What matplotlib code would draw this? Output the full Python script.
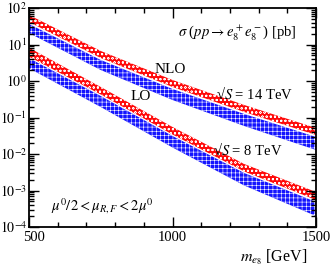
import matplotlib
matplotlib.use("Agg")
import matplotlib.pyplot as plt
import matplotlib.transforms as mtransforms
import numpy as np

plt.rcParams['font.family'] = ['Liberation Serif', 'DejaVu Serif']
plt.rcParams['mathtext.fontset'] = 'stix'
plt.rcParams['hatch.linewidth'] = 0.4

mass = [500, 750, 1000, 1250, 1500]

nlo14_hi = [64.3, 6.64, 1.065, 0.220, 0.0515]
nlo14_lo = [41.3, 4.27, 0.685, 0.1415, 0.0332]
lo14_hi = [36.5, 3.76, 0.604, 0.1247, 0.0292]
lo14_lo = [20.7, 2.00, 0.302, 0.0585, 0.0129]

nlo8_hi = [8.17, 0.685, 0.0549, 5.32e-3, 9.10e-4]
nlo8_lo = [4.63, 0.427, 0.0342, 3.32e-3, 5.50e-4]
lo8_hi = [4.21, 0.388, 0.0311, 3.01e-3, 4.84e-4]
lo8_lo = [2.23, 0.194, 0.01507, 1.37e-3, 2.00e-4]

fig = plt.figure(figsize=(3.32, 2.71), dpi=100)
ax = fig.add_axes([29/332, 1-227/271, 287/332, 219/271])

for hi, lo in [(nlo14_hi, nlo14_lo), (nlo8_hi, nlo8_lo)]:
    ax.fill_between(mass, lo, hi, facecolor='#ff0a0a', edgecolor='white',
                    hatch='oooo', linewidth=0)
for hi, lo in [(lo14_hi, lo14_lo), (lo8_hi, lo8_lo)]:
    ax.fill_between(mass, lo, hi, facecolor='#1414ff', edgecolor='white',
                    hatch='++++', linewidth=0)

ax.set_yscale('log')
ax.set_xlim(500, 1500)
ax.set_ylim(1e-4, 1e2)
ax.set_xticks([500, 1000, 1500])
ax.set_xticks(np.arange(600, 1500, 100), minor=True)
ax.set_yticks([1e-4, 1e-3, 1e-2, 1e-1, 1, 10, 100])
ax.set_yticklabels([r'$10^{-4}$', r'$10^{-3}$', r'$10^{-2}$', r'$10^{-1}$',
                    r'$10^{0}$', r'$10^{1}$', r'$10^{2}$'])
ax.tick_params(which='both', direction='in', top=True, right=True,
               labelsize=10, width=1)
ax.tick_params(which='major', length=7)
ax.tick_params(which='minor', length=3.5)
ax.tick_params(axis='y', pad=1.5)
ax.tick_params(axis='x', pad=3, labelsize=10.5)
for s in ax.spines.values():
    s.set_linewidth(1.3)

# shift the first x tick label slightly to the right like the reference
lbl = ax.get_xticklabels()[0]
lbl.set_transform(lbl.get_transform() + mtransforms.ScaledTranslation(5/100, 0, fig.dpi_scale_trans))

ax.set_xlabel(r'$m_{e_8}$ [GeV]', fontsize=11.5, ha='right')
ax.xaxis.set_label_coords(0.968, -0.095)

ax.text(0.93, 0.886, r'$\sigma$ ($pp \rightarrow e_8^+ e_8^-$) [pb]',
        transform=ax.transAxes, ha='right', va='center', fontsize=10.5)
ax.text(0.491, 0.717, 'NLO', transform=ax.transAxes, ha='center', va='center', fontsize=11)
ax.text(0.390, 0.594, 'LO', transform=ax.transAxes, ha='center', va='center', fontsize=11)
ax.text(0.787, 0.607, '√$S$ = 14 TeV', transform=ax.transAxes,
        ha='center', va='center', fontsize=10.5)
ax.text(0.763, 0.352, '√$S$ = 8 TeV', transform=ax.transAxes,
        ha='center', va='center', fontsize=10.5)
ax.text(0.254, 0.096, r'$\mu^0/2 < \mu_{R,F} < 2\mu^0$', transform=ax.transAxes,
        ha='center', va='center', fontsize=10.5)

fig.savefig('out.png', dpi=100)
